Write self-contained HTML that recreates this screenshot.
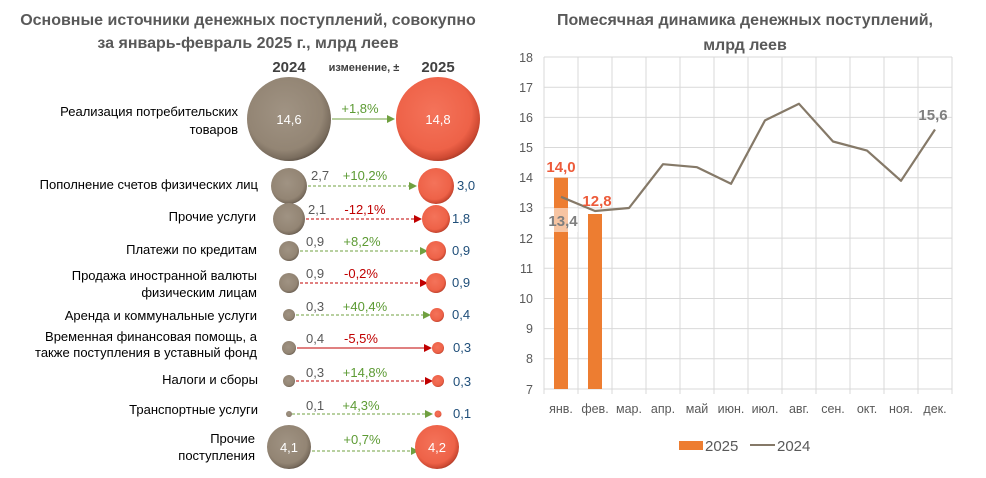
<!DOCTYPE html>
<html><head><meta charset="utf-8"><style>
body{margin:0;background:#fff;}
svg{display:block;font-family:"Liberation Sans","DejaVu Sans",sans-serif;}
</style></head><body>
<svg width="986" height="478" viewBox="0 0 986 478" xmlns="http://www.w3.org/2000/svg">
<defs>
<radialGradient id="gb" cx="0.45" cy="0.42" r="0.6">
<stop offset="0" stop-color="#a09383"/><stop offset="0.75" stop-color="#938574"/><stop offset="0.92" stop-color="#7a6d5e"/><stop offset="1" stop-color="#5a4f44"/></radialGradient>
<radialGradient id="gr" cx="0.45" cy="0.42" r="0.6">
<stop offset="0" stop-color="#f4735a"/><stop offset="0.75" stop-color="#ee6248"/><stop offset="0.92" stop-color="#cf4a33"/><stop offset="1" stop-color="#a83a27"/></radialGradient>
<marker id="ag" markerWidth="8" markerHeight="8" refX="7" refY="4" orient="auto" markerUnits="userSpaceOnUse"><path d="M0,0 L8,4 L0,8 z" fill="#70a040"/></marker>
<marker id="ar" markerWidth="8" markerHeight="8" refX="7" refY="4" orient="auto" markerUnits="userSpaceOnUse"><path d="M0,0 L8,4 L0,8 z" fill="#c00000"/></marker>
</defs>
<g fill="#595959" font-weight="bold" font-size="16" text-anchor="middle">
<text x="248" y="25">Основные источники денежных поступлений, совокупно</text>
<text x="248" y="48">за январь-февраль 2025 г., млрд  леев</text>
</g>
<text x="289" y="72" font-size="15" font-weight="bold" fill="#404040" text-anchor="middle">2024</text>
<text x="364" y="71" font-size="11" font-weight="bold" fill="#404040" text-anchor="middle">изменение, ±</text>
<text x="438" y="72" font-size="15" font-weight="bold" fill="#404040" text-anchor="middle">2025</text>

<g font-size="13" fill="#000" text-anchor="end">
<text x="238" y="116">Реализация потребительских</text>
<text x="238" y="134">товаров</text>
<text x="258" y="189">Пополнение счетов физических лиц</text>
<text x="256" y="221">Прочие услуги</text>
<text x="257" y="254">Платежи по кредитам</text>
<text x="257" y="280">Продажа иностранной валюты</text>
<text x="257" y="297">физическим лицам</text>
<text x="257" y="320">Аренда и коммунальные услуги</text>
<text x="257" y="341">Временная финансовая помощь, а</text>
<text x="257" y="357">также поступления в уставный фонд</text>
<text x="258" y="384">Налоги и сборы</text>
<text x="258" y="414">Транспортные услуги</text>
<text x="255" y="443">Прочие</text>
<text x="255" y="460">поступления</text>
</g>

<g stroke-width="1" fill="none">
<line x1="332" y1="119" x2="394" y2="119" stroke="#70a040" marker-end="url(#ag)"/>
<line x1="308" y1="186" x2="416" y2="186" stroke="#70a040" stroke-dasharray="3,2" marker-end="url(#ag)"/>
<line x1="306" y1="219" x2="421" y2="219" stroke="#c00000" stroke-dasharray="3,2" marker-end="url(#ar)"/>
<line x1="300" y1="251" x2="427" y2="251" stroke="#70a040" stroke-dasharray="3,2" marker-end="url(#ag)"/>
<line x1="300" y1="283" x2="427" y2="283" stroke="#c00000" stroke-dasharray="3,2" marker-end="url(#ar)"/>
<line x1="296" y1="315" x2="430" y2="315" stroke="#70a040" stroke-dasharray="3,2" marker-end="url(#ag)"/>
<line x1="297" y1="348" x2="431" y2="348" stroke="#c00000" marker-end="url(#ar)"/>
<line x1="296" y1="381" x2="432" y2="381" stroke="#c00000" stroke-dasharray="3,2" marker-end="url(#ar)"/>
<line x1="292" y1="414" x2="432" y2="414" stroke="#70a040" stroke-dasharray="3,2" marker-end="url(#ag)"/>
<line x1="312" y1="451" x2="418" y2="451" stroke="#70a040" stroke-dasharray="3,2" marker-end="url(#ag)"/>
</g>

<g>
<circle cx="289" cy="119" r="42" fill="url(#gb)"/>
<circle cx="438" cy="119" r="42" fill="url(#gr)"/>
<circle cx="289" cy="186" r="18" fill="url(#gb)"/>
<circle cx="436" cy="186" r="18" fill="url(#gr)"/>
<circle cx="289" cy="219" r="16" fill="url(#gb)"/>
<circle cx="436" cy="219" r="14" fill="url(#gr)"/>
<circle cx="289" cy="251" r="10" fill="url(#gb)"/>
<circle cx="436" cy="251" r="10" fill="url(#gr)"/>
<circle cx="289" cy="283" r="10" fill="url(#gb)"/>
<circle cx="436" cy="283" r="10" fill="url(#gr)"/>
<circle cx="289" cy="315" r="6" fill="url(#gb)"/>
<circle cx="437" cy="315" r="7" fill="url(#gr)"/>
<circle cx="289" cy="348" r="7" fill="url(#gb)"/>
<circle cx="438" cy="348" r="6" fill="url(#gr)"/>
<circle cx="289" cy="381" r="6" fill="url(#gb)"/>
<circle cx="438" cy="381" r="6" fill="url(#gr)"/>
<circle cx="289" cy="414" r="3" fill="url(#gb)"/>
<circle cx="438" cy="414" r="3.5" fill="url(#gr)"/>
<circle cx="289" cy="447" r="22" fill="url(#gb)"/>
<circle cx="437" cy="447" r="22" fill="url(#gr)"/>
</g>

<g font-size="13">
<text x="289" y="124" fill="#fff" text-anchor="middle">14,6</text>
<text x="438" y="124" fill="#fff" text-anchor="middle">14,8</text>
<text x="289" y="452" fill="#fff" text-anchor="middle">4,1</text>
<text x="437" y="452" fill="#fff" text-anchor="middle">4,2</text>
<g fill="#595959">
<text x="311" y="180">2,7</text><text x="308" y="214">2,1</text><text x="306" y="246">0,9</text><text x="306" y="278">0,9</text>
<text x="306" y="311">0,3</text><text x="306" y="343">0,4</text><text x="306" y="377">0,3</text><text x="306" y="410">0,1</text>
</g>
<g fill="#1f4e79">
<text x="457" y="190">3,0</text><text x="452" y="223">1,8</text><text x="452" y="255">0,9</text><text x="452" y="287">0,9</text>
<text x="452" y="319">0,4</text><text x="453" y="352">0,3</text><text x="453" y="386">0,3</text><text x="453" y="418">0,1</text>
</g>
<g text-anchor="middle">
<text x="360" y="113" fill="#5d9b34">+1,8%</text>
<text x="365" y="180" fill="#5d9b34">+10,2%</text>
<text x="365" y="214" fill="#c00000">-12,1%</text>
<text x="362" y="246" fill="#5d9b34">+8,2%</text>
<text x="361" y="278" fill="#c00000">-0,2%</text>
<text x="365" y="311" fill="#5d9b34">+40,4%</text>
<text x="361" y="343" fill="#c00000">-5,5%</text>
<text x="365" y="377" fill="#5d9b34">+14,8%</text>
<text x="361" y="410" fill="#5d9b34">+4,3%</text>
<text x="362" y="444" fill="#5d9b34">+0,7%</text>
</g>
</g>

<g fill="#595959" font-weight="bold" font-size="16" text-anchor="middle">
<text x="745" y="25">Помесячная динамика денежных поступлений,</text>
<text x="745" y="50">млрд леев</text>
</g>
<g stroke="#d9d9d9" stroke-width="1">
<line x1="544" y1="57" x2="952" y2="57"/><line x1="544" y1="87.2" x2="952" y2="87.2"/>
<line x1="544" y1="117.4" x2="952" y2="117.4"/><line x1="544" y1="147.5" x2="952" y2="147.5"/>
<line x1="544" y1="177.7" x2="952" y2="177.7"/><line x1="544" y1="207.9" x2="952" y2="207.9"/>
<line x1="544" y1="238.1" x2="952" y2="238.1"/><line x1="544" y1="268.3" x2="952" y2="268.3"/>
<line x1="544" y1="298.5" x2="952" y2="298.5"/><line x1="544" y1="328.6" x2="952" y2="328.6"/>
<line x1="544" y1="358.8" x2="952" y2="358.8"/><line x1="544" y1="389" x2="952" y2="389"/>
<line x1="544" y1="57" x2="544" y2="394"/><line x1="578" y1="57" x2="578" y2="394"/>
<line x1="612" y1="57" x2="612" y2="394"/><line x1="646" y1="57" x2="646" y2="394"/>
<line x1="680" y1="57" x2="680" y2="394"/><line x1="714" y1="57" x2="714" y2="394"/>
<line x1="748" y1="57" x2="748" y2="394"/><line x1="782" y1="57" x2="782" y2="394"/>
<line x1="816" y1="57" x2="816" y2="394"/><line x1="850" y1="57" x2="850" y2="394"/>
<line x1="884" y1="57" x2="884" y2="394"/><line x1="918" y1="57" x2="918" y2="394"/>
<line x1="952" y1="57" x2="952" y2="394"/>
</g>
<g font-size="12.5" fill="#595959" text-anchor="end">
<text x="533" y="62">18</text><text x="533" y="92">17</text><text x="533" y="122">16</text><text x="533" y="152">15</text>
<text x="533" y="182">14</text><text x="533" y="212">13</text><text x="533" y="243">12</text><text x="533" y="273">11</text>
<text x="533" y="303">10</text><text x="533" y="333">9</text><text x="533" y="363">8</text><text x="533" y="394">7</text>
</g>
<g font-size="12.5" fill="#595959" text-anchor="middle">
<text x="561" y="413">янв.</text><text x="595" y="413">фев.</text><text x="629" y="413">мар.</text><text x="663" y="413">апр.</text>
<text x="697" y="413">май</text><text x="731" y="413">июн.</text><text x="765" y="413">июл.</text><text x="799" y="413">авг.</text>
<text x="833" y="413">сен.</text><text x="867" y="413">окт.</text><text x="901" y="413">ноя.</text><text x="935" y="413">дек.</text>
</g>
<rect x="554" y="177.7" width="14" height="211.3" fill="#ed7d31"/>
<rect x="588" y="214" width="14" height="175" fill="#ed7d31"/>
<polyline fill="none" stroke="#857968" stroke-width="2.2" stroke-linejoin="round" points="561,196.8 595,211 629,208 663,164.2 697,167.2 731,183.8 765,120.4 799,103.8 833,141.5 867,150.6 901,180.8 935,129.5"/>
<rect x="545" y="208" width="33" height="24" fill="#fff" opacity="0.55"/>
<g font-size="15" font-weight="bold">
<text x="561" y="172" fill="#ed5b3a" text-anchor="middle">14,0</text>
<text x="597" y="206" fill="#ed5b3a" text-anchor="middle">12,8</text>
<text x="563" y="226" fill="#7f7f7f" text-anchor="middle">13,4</text>
<text x="933" y="120" fill="#7f7f7f" text-anchor="middle">15,6</text>
</g>
<rect x="679" y="441" width="24" height="9" fill="#ed7d31"/>
<text x="705" y="451" font-size="15" fill="#595959">2025</text>
<line x1="750" y1="445" x2="775" y2="445" stroke="#857968" stroke-width="2"/>
<text x="777" y="451" font-size="15" fill="#595959">2024</text>
</svg>
</body></html>
